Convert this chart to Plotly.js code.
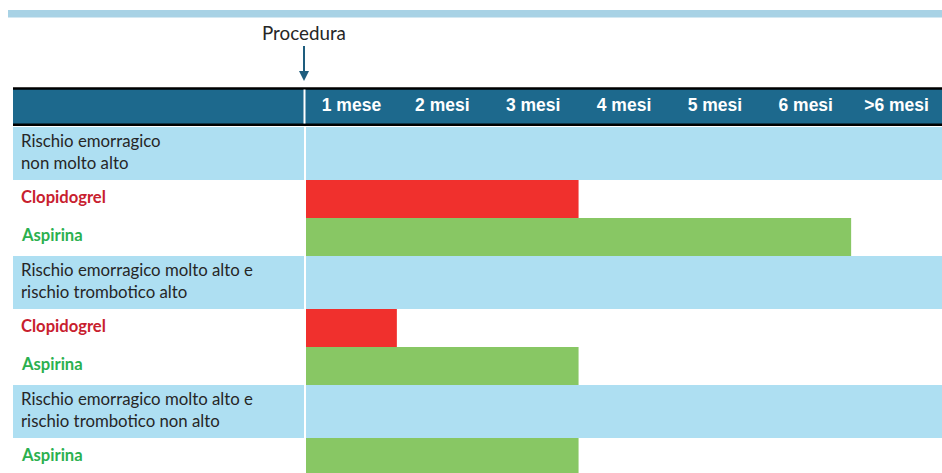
<!DOCTYPE html>
<html>
<head>
<meta charset="utf-8">
<script src="https://cdn.plot.ly/plotly-3.0.1.min.js"></script>
<style>html,body{margin:0;padding:0;background:#fff;}</style>
</head>
<body>
<div id="chart" style="width:942px;height:473px;"></div>
<script>
// ---- data ----
const rowLabels = [
  "Rischio emorragico<br>non molto alto",
  "Clopidogrel",
  "Aspirina",
  "Rischio emorragico molto alto e<br>rischio trombotico alto",
  "Clopidogrel",
  "Aspirina",
  "Rischio emorragico molto alto e<br>rischio trombotico non alto",
  "Aspirina"
];
const rowTypes = ["group", "Clopidogrel", "Aspirina", "group", "Clopidogrel", "Aspirina", "group", "Aspirina"];
const durationMonths = [null, 3, 6, null, 1, 3, null, 3];
const monthLabels = ["1 mese", "2 mesi", "3 mesi", "4 mesi", "5 mesi", "6 mesi", ">6 mesi"];
const monthTicks = [0.5, 1.5, 2.5, 3.5, 4.5, 5.5, 6.5];
const markerLabel = "Procedura";

// ---- layout constants ----
const W = 942, H = 473;
const ML = 306, MT = 126, MB = 0, MR = 0;
const plotW = W - ML - MR, plotH = H - MT - MB;
const rowHeight = {group: 53, drug: 38};
const colors = {
  header: "#1d698d", light: "#aedff2", topBar: "#a8d2e5",
  Clopidogrel: "#f0302d", Aspirina: "#88c764",
  ClopidogrelText: "#c8202e", AspirinaText: "#2bb04f", text: "#262626"
};
const px2paperX = p => (p - ML) / plotW;
const px2paperY = p => (H - MB - p) / plotH;

// row positions (y units = pixels below plot top)
let cursor = 1;
const rowStart = [], rowEnd = [], rowCenter = [];
rowTypes.forEach(t => {
  const h = t === "group" ? rowHeight.group : rowHeight.drug;
  rowStart.push(cursor); rowEnd.push(cursor + h); rowCenter.push(cursor + h / 2);
  cursor += h;
});

const shapes = [];
const annotations = [];

// top decorative bar
shapes.push({type: "rect", xref: "paper", yref: "paper", x0: px2paperX(8), x1: 1,
  y0: px2paperY(17.5), y1: px2paperY(10), fillcolor: colors.topBar, line: {width: 0}, layer: "below"});
// header band
shapes.push({type: "rect", xref: "paper", yref: "paper", x0: px2paperX(13), x1: 1,
  y0: px2paperY(124.5), y1: px2paperY(88.5), fillcolor: colors.header, line: {width: 0}, layer: "below"});
shapes.push({type: "line", xref: "paper", yref: "paper", x0: px2paperX(13), x1: 1,
  y0: px2paperY(88.5), y1: px2paperY(88.5), line: {color: "#000", width: 2.5}});
shapes.push({type: "line", xref: "paper", yref: "paper", x0: px2paperX(13), x1: 1,
  y0: px2paperY(124.8), y1: px2paperY(124.8), line: {color: "#000", width: 2.5}});
shapes.push({type: "line", xref: "paper", yref: "paper", x0: px2paperX(304.5), x1: px2paperX(304.5),
  y0: px2paperY(123.5), y1: px2paperY(89.5), line: {color: "#fff", width: 2}});

// row backgrounds and labels
rowTypes.forEach((t, i) => {
  if (t === "group") {
    shapes.push({type: "rect", xref: "paper", yref: "y", x0: px2paperX(13), x1: px2paperX(304),
      y0: rowStart[i], y1: rowEnd[i], fillcolor: colors.light, line: {width: 0}, layer: "below"});
    shapes.push({type: "rect", xref: "paper", yref: "y", x0: 0, x1: 1,
      y0: rowStart[i], y1: rowEnd[i], fillcolor: colors.light, line: {width: 0}, layer: "below"});
  }
  annotations.push({
    xref: "paper", yref: "y", x: px2paperX(19), y: rowCenter[i] - 2,
    xanchor: "left", yanchor: "middle", align: "left", showarrow: false,
    text: t === "group" ? rowLabels[i] : "<b>" + rowLabels[i] + "</b>",
    font: {family: "Lato, 'Open Sans', sans-serif", size: t === "group" ? 16.8 : 16.6,
      color: t === "group" ? colors.text : colors[t + "Text"]}
  });
});

// Procedura marker
annotations.push({
  xref: "x", yref: "paper", x: 0, y: px2paperY(81), xshift: -2,
  text: markerLabel, showarrow: true, ax: 0, ay: -48,
  arrowhead: 2, arrowsize: 1, arrowwidth: 2, arrowcolor: "#1e5d7e", standoff: 0,
  font: {family: "Lato, 'Open Sans', sans-serif", size: 18.8, color: "#262626"}
});

// bars
const traces = ["Clopidogrel", "Aspirina"].map(name => {
  const idx = rowTypes.map((t, i) => t === name ? i : -1).filter(i => i >= 0);
  return {
    type: "bar", orientation: "h", name: name,
    x: idx.map(i => durationMonths[i]),
    y: idx.map(i => rowCenter[i]),
    width: idx.map(i => rowEnd[i] - rowStart[i]),
    base: 0,
    marker: {color: colors[name], line: {width: 0}},
    hoverinfo: "skip"
  };
});

const layout = {
  width: W, height: H,
  margin: {l: ML, r: MR, t: MT, b: MB, pad: 0},
  paper_bgcolor: "#fff", plot_bgcolor: "rgba(0,0,0,0)",
  showlegend: false, barmode: "overlay",
  xaxis: {range: [0, 7], side: "top", tickvals: monthTicks, ticktext: monthLabels,
    showgrid: false, zeroline: false, showline: false, ticks: "", fixedrange: true,
    ticklabelstandoff: 11,
    tickfont: {family: "'Liberation Sans', Arial, sans-serif", size: 17.5, color: "#fff", weight: "bold"}},
  yaxis: {range: [plotH, 0], showgrid: false, zeroline: false, showline: false,
    showticklabels: false, ticks: "", fixedrange: true},
  shapes: shapes,
  annotations: annotations
};

Plotly.newPlot("chart", traces, layout, {displayModeBar: false, staticPlot: true});
</script>
</body>
</html>
